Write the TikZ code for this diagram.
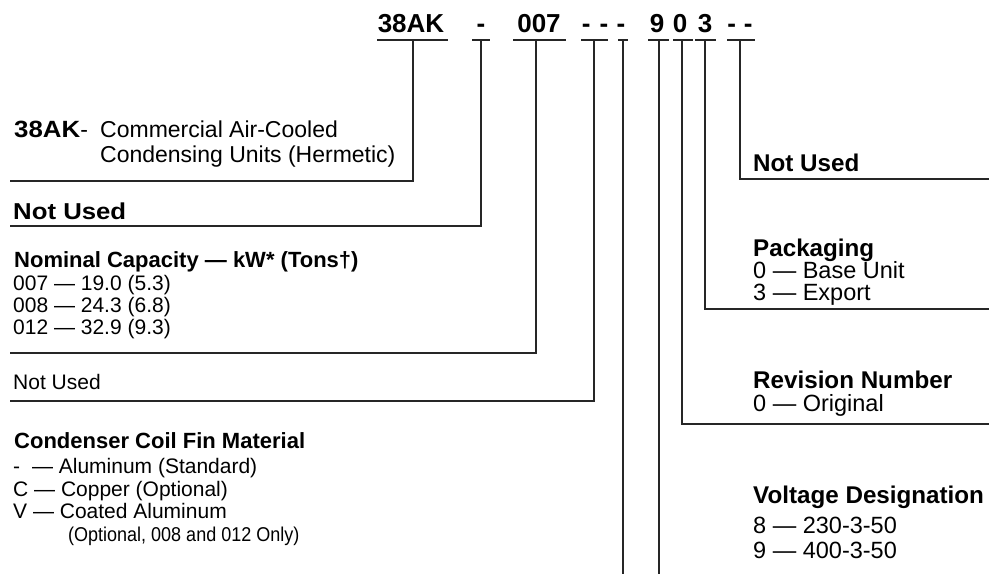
\documentclass[tikz,border=0pt]{standalone}
\usepackage{fontspec}
\setmainfont{Liberation Sans}
\begin{document}
\begin{tikzpicture}[x=1pt,y=-1pt,
  conn/.style={draw=black!85, line width=1.2pt},
  code/.style={font=\fontsize{26}{30}\selectfont\bfseries, inner sep=0pt, anchor=base},
  head/.style={font=\fontsize{22}{26}\selectfont\bfseries, inner sep=0pt, anchor=base west},
  item/.style={font=\fontsize{21}{25}\selectfont, inner sep=0pt, anchor=base west},
  rhead/.style={font=\fontsize{24.2}{28}\selectfont\bfseries, inner sep=0pt, anchor=base west},
  ritem/.style={font=\fontsize{23.5}{28}\selectfont, inner sep=0pt, anchor=base west},
  desc/.style={font=\fontsize{23}{27}\selectfont, inner sep=0pt, anchor=base west}]
\useasboundingbox (0,0) rectangle (989,574);
% code letters
\node[code] (c1) at (411,32) {38AK};
\node[code] (c2) at (481,32) {-};
\node[code] (c3) at (539,32) {007};
\node[code] (c4) at (595,32) {-\hspace{9pt}-};
\node[code] (c5) at (621,32) {-};
\node[code] (c6) at (657,32) {9};
\node[code] (c7) at (680,32) {0};
\node[code] (c8) at (705,32) {3};
\node[code] (c9) at (740,32) {-\hspace{8pt}-};
% underline coordinates
\coordinate (u1a) at (377,40); \coordinate (u1b) at (448,40); \coordinate (u1) at (413,40);
\coordinate (u2a) at (472,40); \coordinate (u2b) at (490,40); \coordinate (u2) at (481,40);
\coordinate (u3a) at (513,40); \coordinate (u3b) at (566,40); \coordinate (u3) at (536,40);
\coordinate (u4a) at (581,40); \coordinate (u4b) at (608,40); \coordinate (u4) at (594,40);
\coordinate (u5a) at (618,40); \coordinate (u5b) at (628,40); \coordinate (u5) at (623,40);
\coordinate (u6a) at (648,40); \coordinate (u6b) at (669,40); \coordinate (u6) at (659,40);
\coordinate (u7a) at (673,40); \coordinate (u7b) at (693,40); \coordinate (u7) at (682,40);
\coordinate (u8a) at (695,40); \coordinate (u8b) at (716,40); \coordinate (u8) at (705,40);
\coordinate (u9a) at (727,40); \coordinate (u9b) at (755,40); \coordinate (u9) at (740,40);
% connector ends
\coordinate (e1) at (10,181);
\coordinate (e2) at (10,226);
\coordinate (e3) at (10,353);
\coordinate (e4) at (10,401);
\coordinate (e5) at (623,574);
\coordinate (e6) at (659,574);
\coordinate (e7) at (989,424);
\coordinate (e8) at (989,309);
\coordinate (e9) at (989,179);
\foreach \i in {1,...,9}{\draw[conn] (u\i a) -- (u\i b);}
\draw[conn] (u1) |- (e1);
\draw[conn] (u2) |- (e2);
\draw[conn] (u3) |- (e3);
\draw[conn] (u4) |- (e4);
\draw[conn] (u5) -- (e5);
\draw[conn] (u6) -- (e6);
\draw[conn] (u7) |- (e7);
\draw[conn] (u8) |- (e8);
\draw[conn] (u9) |- (e9);
% left texts
\node[desc] (d1a) at (14,137) {\scalebox{1.1}[1]{\fontsize{23.5}{28}\selectfont\bfseries 38AK}-};
\node[desc] (d1b) at (100,137) {Commercial Air-Cooled};
\node[desc] (d1c) at (100,162) {Condensing Units (Hermetic)};
\node[head] (nu1) at (13,219) {\scalebox{1.12}[1]{\fontsize{23}{27}\selectfont\bfseries Not Used}};
\node[head] (cap) at (14,267) {Nominal Capacity — kW* (Tons†)};
\node[item] (cap1) at (13,290) {007 — 19.0 (5.3)};
\node[item] (cap2) at (13,312) {008 — 24.3 (6.8)};
\node[item] (cap3) at (13,334) {012 — 32.9 (9.3)};
\node[item] (nu2) at (13,389) {Not Used};
\node[head] (fin) at (14,448) {Condenser Coil Fin Material};
\node[item] (fin1) at (13,473) {-\hspace{6pt} — Aluminum (Standard)};
\node[item] (fin2) at (13,496) {C — Copper (Optional)};
\node[item] (fin3) at (13,518) {V — Coated Aluminum};
\node[item] (fin4) at (68,541) {\scalebox{0.9}[1]{\fontsize{20}{24}\selectfont (Optional, 008 and 012 Only)}};
% right texts
\node[rhead] (nu3) at (753,171) {Not Used};
\node[rhead] (pak) at (753,256) {Packaging};
\node[ritem] (pak1) at (753,278) {0 — Base Unit};
\node[ritem] (pak2) at (753,300) {3 — Export};
\node[rhead] (rev) at (753,388) {Revision Number};
\node[ritem] (rev1) at (753,411) {0 — Original};
\node[rhead] (volt) at (753,503) {Voltage Designation};
\node[ritem] (volt1) at (753,533) {8 — 230-3-50};
\node[ritem] (volt2) at (753,558) {9 — 400-3-50};
\end{tikzpicture}
\end{document}
